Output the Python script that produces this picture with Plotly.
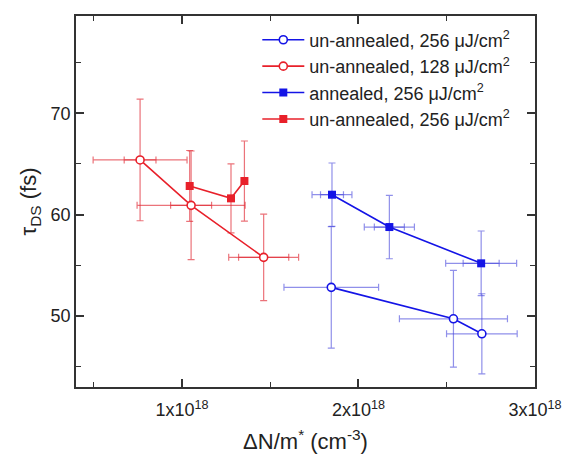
import plotly.graph_objects as go

# x in units of 1e18 cm^-3, tau in fs
# un-annealed, 256 uJ/cm2 (blue open circles)
ua256_x = [1.846, 2.538, 2.699]
ua256_y = [52.83, 49.73, 48.25]
ua256_xerr = [0.268, 0.306, 0.200]
ua256_yerr = [6.0, 4.77, 3.95]

# un-annealed, 128 uJ/cm2 (red open circles)
ua128_x = [0.763, 1.052, 1.463]
ua128_y = [65.40, 60.92, 55.79]
ua128_xerr = [0.266, 0.306, 0.198]
ua128_xerr_in = [0.090, 0.116, 0.142]
ua128_yerr = [6.0, 5.36, 4.27]

# annealed, 256 uJ/cm2 (blue filled squares)
an256_x = [1.850, 2.175, 2.695]
an256_y = [61.97, 58.78, 55.20]
an256_xerr = [0.113, 0.142, 0.201]
an256_xerr_in = [0.065, 0.085, 0.102]
an256_yerr = [3.13, 3.13, 3.19]

# un-annealed, 256 uJ/cm2 (red filled squares)
ub256_x = [1.044, 1.278, 1.354]
ub256_y = [62.83, 61.61, 63.32]
ub256_yerr = [3.5, 3.4, 3.95]

x_ticks = [1, 2, 3]
x_ticktext = ["1x10<sup>18</sup>", "2x10<sup>18</sup>", "3x10<sup>18</sup>"]
y_ticks = [50, 60, 70]

names = ["un-annealed, 256 μJ/cm<sup>2</sup>",
         "un-annealed, 128 μJ/cm<sup>2</sup>",
         "annealed, 256 μJ/cm<sup>2</sup>",
         "un-annealed, 256 μJ/cm<sup>2</sup>"]

BLUE = "#1414e6"
RED = "#e8202a"
BLUE_E = "rgba(70,70,220,0.6)"
RED_E = "rgba(225,40,50,0.65)"

fig = go.Figure()

def err_trace(x, y, ex, ey, col):
    d = dict(x=x, y=y, mode="markers",
             marker=dict(size=1, color="rgba(0,0,0,0)"),
             showlegend=False, hoverinfo="skip")
    if ex is not None:
        d["error_x"] = dict(type="data", array=ex, visible=True, color=col,
                            thickness=1.2, width=3.5)
    if ey is not None:
        d["error_y"] = dict(type="data", array=ey, visible=True, color=col,
                            thickness=1.2, width=3.5)
    fig.add_trace(go.Scatter(**d))

# error bars (drawn underneath)
err_trace(ua256_x, ua256_y, ua256_xerr, ua256_yerr, BLUE_E)
err_trace(ua128_x, ua128_y, ua128_xerr, ua128_yerr, RED_E)
err_trace(ua128_x, ua128_y, ua128_xerr_in, None, RED_E)
err_trace(an256_x, an256_y, an256_xerr, an256_yerr, BLUE_E)
err_trace(an256_x, an256_y, an256_xerr_in, None, BLUE_E)
err_trace(ub256_x, ub256_y, None, ub256_yerr, RED_E)

# main series
fig.add_trace(go.Scatter(x=ua256_x, y=ua256_y, mode="lines+markers", name=names[0],
                         line=dict(color=BLUE, width=1.6),
                         marker=dict(symbol="circle", size=8, color="white",
                                     line=dict(color=BLUE, width=1.6))))
fig.add_trace(go.Scatter(x=ua128_x, y=ua128_y, mode="lines+markers", name=names[1],
                         line=dict(color=RED, width=1.6),
                         marker=dict(symbol="circle", size=8, color="white",
                                     line=dict(color=RED, width=1.6))))
fig.add_trace(go.Scatter(x=an256_x, y=an256_y, mode="lines+markers", name=names[2],
                         line=dict(color=BLUE, width=1.6),
                         marker=dict(symbol="square", size=8, color=BLUE,
                                     line=dict(width=0))))
fig.add_trace(go.Scatter(x=ub256_x, y=ub256_y, mode="lines+markers", name=names[3],
                         line=dict(color=RED, width=1.6),
                         marker=dict(symbol="square", size=8, color=RED,
                                     line=dict(width=0))))

axis_common = dict(showline=True, linecolor="#333333", linewidth=1.5, mirror="allticks",
                   ticks="inside", ticklen=8, tickwidth=1.5, tickcolor="#333333",
                   showgrid=False, zeroline=False, automargin=False,
                   tickfont=dict(size=18, color="#222222"))

fig.update_xaxes(range=[0.4, 3.0], tickmode="array", tickvals=x_ticks, ticktext=x_ticktext,
                 ticklabelstandoff=6,
                 title=dict(text="ΔN/m<sup>*</sup> (cm<sup>-3</sup>)",
                            font=dict(size=22, color="#222222"), standoff=14),
                 minor=dict(ticks="inside", ticklen=5, tickwidth=1.2, tickcolor="#333333",
                            tickmode="array", tickvals=[0.5, 1.5, 2.5]),
                 **axis_common)
fig.update_yaxes(range=[43, 79.6], tickmode="array", tickvals=y_ticks,
                 title=dict(text="τ<sub>DS</sub> (fs)",
                            font=dict(size=22, color="#222222"), standoff=8),
                 minor=dict(ticks="inside", ticklen=5, tickwidth=1.2, tickcolor="#333333",
                            tickmode="array", tickvals=[45, 55, 65, 75]),
                 **axis_common)

fig.update_layout(
    width=563, height=457, autosize=False,
    margin=dict(l=76, r=28, t=16, b=70),
    plot_bgcolor="white", paper_bgcolor="white",
    font=dict(family="Arial, Liberation Sans, sans-serif", color="#222222"),
    legend=dict(x=0.395, y=0.985, xanchor="left", yanchor="top",
                bgcolor="rgba(0,0,0,0)", borderwidth=0,
                font=dict(size=18, color="#222222"), tracegroupgap=0,
                itemwidth=42),
)

fig.write_html("out.html")
